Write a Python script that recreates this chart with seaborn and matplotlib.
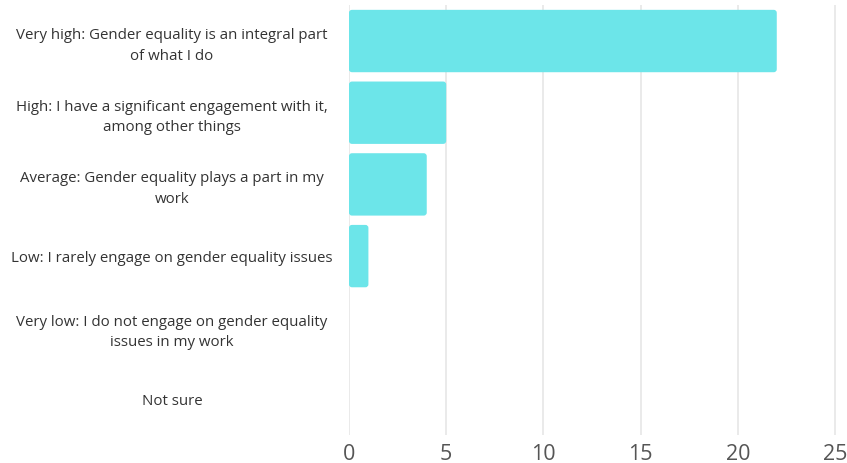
import matplotlib
matplotlib.use("Agg")
import matplotlib.pyplot as plt
import seaborn as sns
import pandas as pd
from matplotlib.patches import FancyBboxPatch

categories = [
    "Very high: Gender equality is an integral part\nof what I do",
    "High: I have a significant engagement with it,\namong other things",
    "Average: Gender equality plays a part in my\nwork",
    "Low: I rarely engage on gender equality issues",
    "Very low: I do not engage on gender equality\nissues in my work",
    "Not sure",
]
counts = [22, 5, 4, 1, 0, 0]
x_ticks = [0, 5, 10, 15, 20, 25]

BAR_COLOR = "#6CE5E9"

df = pd.DataFrame({"level": categories, "count": counts})

sns.set_theme(style="white")
plt.rcParams["font.family"] = ["Open Sans", "DejaVu Sans"]

fig = plt.figure(figsize=(8.47, 4.63), dpi=100)
ax = fig.add_axes([0.412, 0.0598, 0.5774, 0.929])

sns.barplot(data=df, x="count", y="level", orient="h", color=BAR_COLOR,
            saturation=1, width=0.87, ax=ax)

ax.set_xlim(0, 25.15)
ax.set_ylim(5.5, -0.5)

# replace the square bars with slightly rounded ones (radius in pixels)
radius_px = 3.0
x_per_px = 25.15 / ax.bbox.width
y_per_px = 6.0 / ax.bbox.height
rx = radius_px * x_per_px
for p in list(ax.patches):
    x0, y0 = p.get_x(), p.get_y()
    w, h = p.get_width(), p.get_height()
    p.remove()
    if w <= 0:
        continue
    ry = radius_px * y_per_px
    rounded = FancyBboxPatch((x0 + rx, y0 + ry), w - 2 * rx, h - 2 * ry,
                             boxstyle=f"round,pad={rx},rounding_size={rx}",
                             mutation_aspect=y_per_px / x_per_px,
                             facecolor=BAR_COLOR, edgecolor="none", zorder=3)
    ax.add_patch(rounded)

ax.set_xticks(x_ticks)
ax.set_xticklabels([str(t) for t in x_ticks], fontsize=15.5, color="#555555")
ax.grid(axis="x", color="#e6e6e6", linewidth=1.2, zorder=0)
ax.set_axisbelow(True)
for s in ax.spines.values():
    s.set_visible(False)
ax.tick_params(axis="x", length=0, pad=6)
ax.tick_params(axis="y", length=0, pad=127.5)
for lbl in ax.get_yticklabels():
    lbl.set_horizontalalignment("center")
    lbl.set_multialignment("center")
    lbl.set_fontsize(10.8)
    lbl.set_color("#333333")
    lbl.set_linespacing(1.5)
ax.set_xlabel("")
ax.set_ylabel("")

fig.savefig("out.png", dpi=100)
